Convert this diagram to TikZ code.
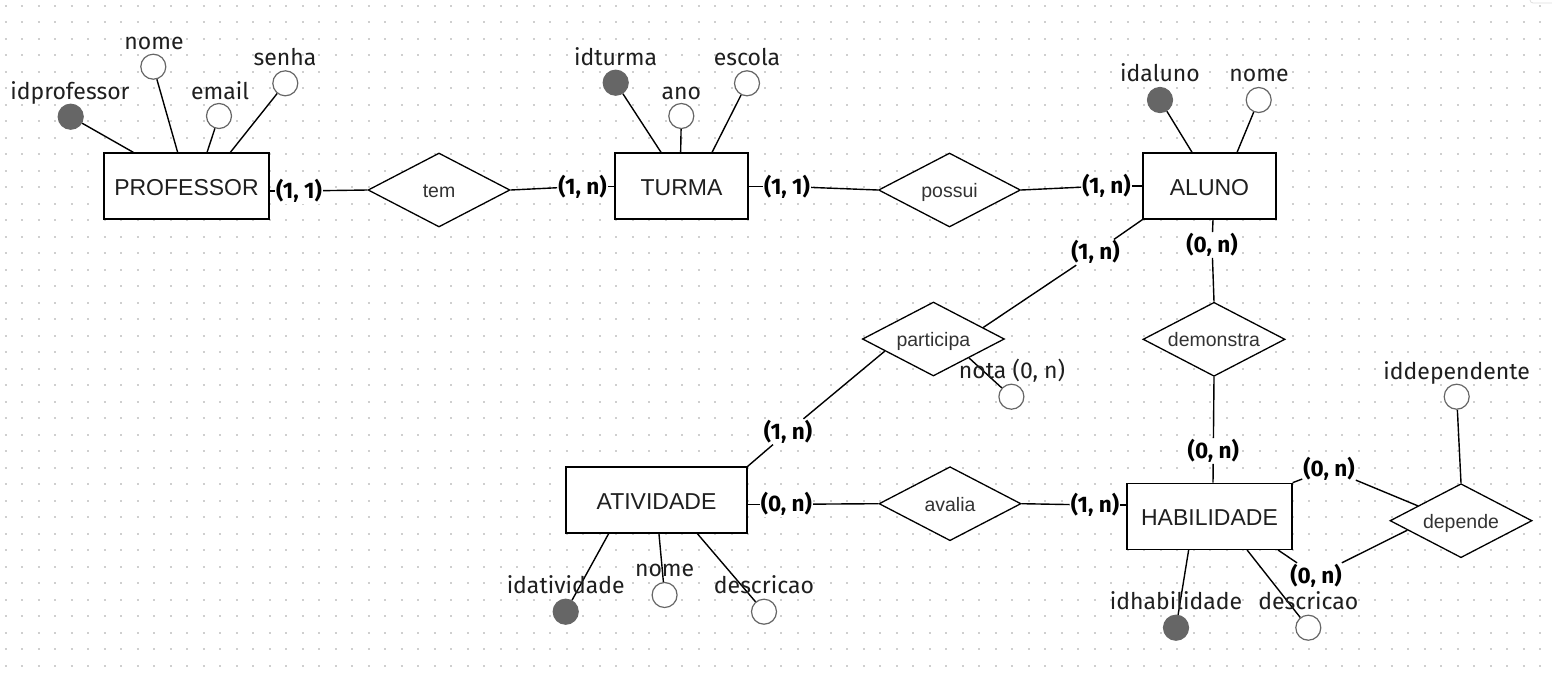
\documentclass[tikz,border=0pt]{standalone}
\usepackage{fontspec}
\setmainfont{Liberation Sans}
\newfontfamily\fira{Fira Sans}
\usetikzlibrary{shapes.geometric}
\definecolor{gridc}{HTML}{CFCFCF}
\definecolor{attrc}{HTML}{666666}
\definecolor{reltxt}{HTML}{333333}
\begin{document}
\begin{tikzpicture}[x=1pt,y=-1pt,
  entity/.style={draw=black, line width=1.3pt, fill=white, inner sep=0pt,
    font=\fontsize{23}{26}\selectfont, text=black!88, text height=18pt, text depth=0pt},
  rel/.style={diamond, draw=black, line width=1.3pt, fill=white, inner sep=0pt, aspect=1.92,
    minimum width=142pt, minimum height=74pt, font=\fontsize{19.5}{22}\selectfont,
    text=reltxt, text height=15pt, text depth=0pt},
  attr/.style={circle, draw=attrc, line width=1.2pt, fill=white, minimum size=25pt, inner sep=0pt},
  keyattr/.style={circle, draw=attrc, fill=attrc, line width=1.2pt, minimum size=25pt, inner sep=0pt},
  atxt/.style={font=\fira\fontsize{23}{26}\selectfont, anchor=base, inner sep=0pt, text=black!88},
  card/.style={font=\fira\bfseries\fontsize{22.5}{25}\selectfont, fill=white, inner sep=1pt, text=black},
  link/.style={line width=1.4pt, draw=black}
]
\useasboundingbox (0,0) rectangle (1552,675);
\fill[white] (0,0) rectangle (1552,675);
% dotted background grid
\foreach \k in {0,...,40}
  \draw[gridc, line width=1.6pt, dash pattern=on 1.6pt off 14.9pt] (4.9,{5.7+16.5*\k}) -- (1542,{5.7+16.5*\k});
\draw[gray!25, line width=0.8pt, rounded corners=3pt] (1530,-6) rectangle (1562,3);

% entities
\node[entity, minimum width=165pt, minimum height=66pt] (prof) at (186.5,186) {PROFESSOR};
\node[entity, minimum width=133pt, minimum height=66pt] (turma) at (681.5,186) {TURMA};
\node[entity, minimum width=133pt, minimum height=66pt] (aluno) at (1209.5,186) {ALUNO};
\node[entity, minimum width=181pt, minimum height=66pt] (ativ) at (656.5,500) {ATIVIDADE};
\node[entity, minimum width=165pt, minimum height=66pt] (hab) at (1209.5,516.3) {HABILIDADE};

% relationships
\node[rel] (tem) at (439,190) {tem};
\node[rel] (possui) at (949.5,190) {possui};
\node[rel] (participa) at (933.4,339) {participa};
\node[rel] (demonstra) at (1214,339.3) {demonstra};
\node[rel] (avalia) at (950,503.7) {avalia};
\node[rel] (depende) at (1461,520.7) {depende};

% attribute circles
\node[keyattr] (pid) at (70.7,116.7) {};
\node[attr] (pnome) at (153.3,66.7) {};
\node[attr] (pemail) at (219,116) {};
\node[attr] (psenha) at (285.3,83.3) {};
\node[keyattr] (tid) at (615.7,82.7) {};
\node[attr] (tano) at (681.3,116) {};
\node[attr] (tesc) at (747,83.3) {};
\node[keyattr] (aid) at (1160,100) {};
\node[attr] (anome) at (1258.7,100) {};
\node[attr] (notac) at (1011.4,396.7) {};
\node[keyattr] (atid) at (565.7,611.7) {};
\node[attr] (atnome) at (664.6,595) {};
\node[attr] (atdesc) at (764,611.7) {};
\node[keyattr] (hid) at (1176,627.7) {};
\node[attr] (hdesc) at (1308.3,627.7) {};
\node[attr] (depc) at (1456.7,396.7) {};

% attribute lines
\draw[link] (pid) -- ([xshift=30pt]prof.north west);
\draw[link] (pnome) -- ([xshift=74.3pt]prof.north west);
\draw[link] (pemail) -- ([xshift=103.7pt]prof.north west);
\draw[link] (psenha) -- ([xshift=127pt]prof.north west);
\draw[link] (tid) -- ([xshift=46.7pt]turma.north west);
\draw[link] (tano) -- ([xshift=66.3pt]turma.north west);
\draw[link] (tesc) -- ([xshift=97.7pt]turma.north west);
\draw[link] (aid) -- ([xshift=49.7pt]aluno.north west);
\draw[link] (anome) -- ([xshift=94.7pt]aluno.north west);
\draw[link] (participa.332) -- (notac);
\draw[link] (depc) -- (depende.north);
\draw[link] (atid) -- ([xshift=43.3pt]ativ.south west);
\draw[link] (atnome) -- ([xshift=93.6pt]ativ.south west);
\draw[link] (atdesc) -- ([xshift=132pt]ativ.south west);
\draw[link] (hid) -- ([xshift=62.3pt]hab.south west);
\draw[link] (hdesc) -- ([xshift=120.7pt]hab.south west);

% attribute labels
\node[atxt] (lpid) at (70,99.3) {idprofessor};
\node[atxt] (lpnome) at (154,49.3) {nome};
\node[atxt] (lpemail) at (220,99.3) {email};
\node[atxt] (lpsenha) at (285,65.7) {senha};
\node[atxt] (ltid) at (615.7,65.7) {idturma};
\node[atxt] (ltano) at (681.3,99) {ano};
\node[atxt] (ltesc) at (747,65.7) {escola};
\node[atxt] (laid) at (1160,81.7) {idaluno};
\node[atxt] (lanome) at (1259,81.7) {nome};
\node[atxt] (lnota) at (1012,378) {nota (0, n)};
\node[atxt] (ldep) at (1456.7,379.3) {iddependente};
\node[atxt] (lhid) at (1176,609.3) {idhabilidade};
\node[atxt] (lhdesc) at (1308.3,609.3) {descricao};
\node[atxt] (latid) at (565.7,593.3) {idatividade};
\node[atxt] (latnome) at (664.6,576.7) {nome};
\node[atxt] (latdesc) at (764,593.3) {descricao};

% cardinality labels
\node[card] (c1) at (299,191) {(1, 1)};
\node[card] (c2) at (582.5,186.5) {(1, n)};
\node[card] (c3) at (787,186.5) {(1, 1)};
\node[card] (c4) at (1106.5,186) {(1, n)};
\node[card] (c5) at (1095.4,252.3) {(1, n)};
\node[card] (c6) at (1212,245) {(0, n)};
\node[card] (c7) at (788,431.7) {(1, n)};
\node[card] (c8) at (1213.3,451) {(0, n)};
\node[card] (c9) at (786.4,504.3) {(0, n)};
\node[card] (c10) at (1095,505) {(1, n)};
\node[card] (c11) at (1329,469) {(0, n)};
\node[card] (c12) at (1316,575.7) {(0, n)};

% relationship connectors
\draw[link] (prof.east |- c1) -- (c1);
\draw[link] (c1) -- (tem.west);
\draw[link] (tem.east) -- (c2);
\draw[link] (c2) -- (turma.west |- c2);
\draw[link] (turma.east |- c3) -- (c3);
\draw[link] (c3) -- (possui.west);
\draw[link] (possui.east) -- (c4);
\draw[link] (c4) -- (aluno.west |- c4);
\draw[link] (aluno.south west) -- (c5);
\draw[link] (c5) -- (participa.13);
\draw[link] ([xshift=3.5pt]aluno.south) -- (c6);
\draw[link] (c6) -- (demonstra.north);
\draw[link] (participa.194) -- (c7);
\draw[link] (c7) -- (ativ.north east);
\draw[link] (demonstra.south) -- (c8);
\draw[link] (c8) -- ([xshift=3.5pt]hab.north);
\draw[link] (ativ.east |- c9) -- (c9);
\draw[link] (c9) -- (avalia.west);
\draw[link] (avalia.east) -- (c10);
\draw[link] (c10) -- (hab.west |- c10);
\draw[link] (hab.north east) -- (c11);
\draw[link] (c11) -- (depende.161);
\draw[link] ([xshift=-14.7pt]hab.south east) -- (c12);
\draw[link] (c12) -- (depende.190);
\end{tikzpicture}
\end{document}
